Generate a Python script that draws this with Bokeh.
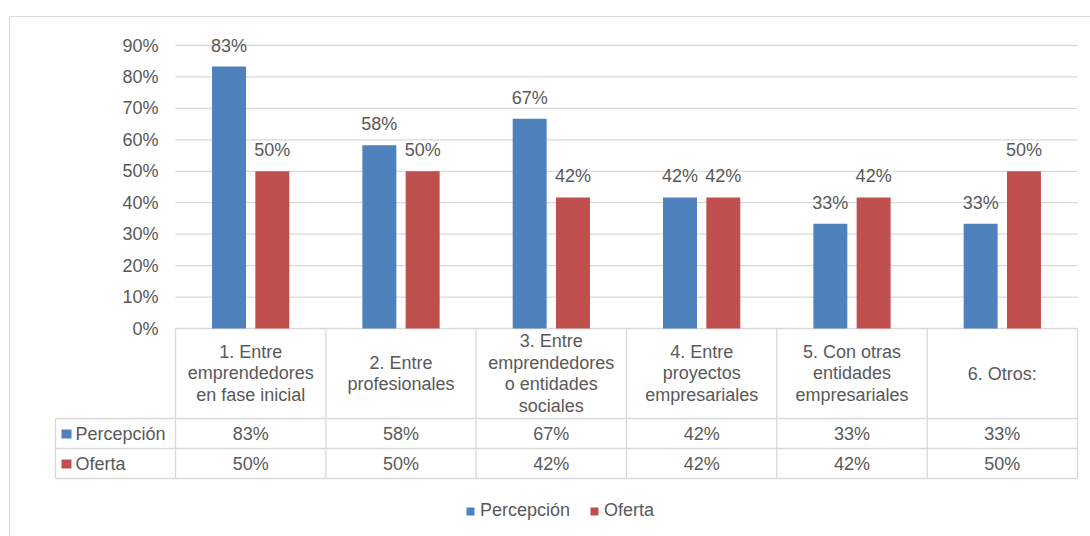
from bokeh.plotting import figure
from bokeh.models import Range1d, Legend, LegendItem
from bokeh.core.properties import value
from bokeh.embed import file_html
from bokeh.resources import INLINE

# ---------------- data ----------------
categories = [
    "1. Entre\nemprendedores\nen fase inicial",
    "2. Entre\nprofesionales",
    "3. Entre\nemprendedores\no entidades\nsociales",
    "4. Entre\nproyectos\nempresariales",
    "5. Con otras\nentidades\nempresariales",
    "6. Otros:",
]
series_names = ["Percepción", "Oferta"]
percepcion = [83.3, 58.3, 66.7, 41.7, 33.3, 33.3]
oferta = [50.0, 50.0, 41.7, 41.7, 41.7, 50.0]
y_ticks = [0, 10, 20, 30, 40, 50, 60, 70, 80, 90]
colors = ["#4F81BD", "#C0504D"]

# ---------------- layout (page pixels) ----------------
W, H = 1090, 536
ORIGIN = 0
PLOT_L = 175.0
CAT_W = 150.33
ZERO_Y = 328.0
PX_PCT = 3.1444
FONT = value("Liberation Sans")
FS = "18px"
TXT = "#595959"
LINE = "#D9D9D9"


def X(px):
    return (px - PLOT_L) / CAT_W


def Y(py):
    return (ZERO_Y - py) / PX_PCT


p = figure(
    width=W, height=H, output_backend="svg", toolbar_location=None,
    x_range=Range1d(X(ORIGIN), X(ORIGIN + W)),
    y_range=Range1d(Y(ORIGIN + H), Y(ORIGIN)),
    x_axis_location=None, y_axis_location=None,
    min_border=0,
)
p.grid.visible = False
p.outline_line_color = None
p.background_fill_color = "white"
p.border_fill_color = "white"

n = len(categories)

# outer chart border
p.segment(x0=[X(9), X(9)], y0=[Y(16), Y(16)], x1=[X(1200), X(9)], y1=[Y(16), Y(600)],
          line_color=LINE, line_width=1.2)

# gridlines
p.segment(x0=[0] * len(y_ticks), x1=[n] * len(y_ticks), y0=y_ticks, y1=y_ticks,
          line_color=LINE, line_width=1.3)

# y tick labels
p.text(x=[X(158)] * len(y_ticks), y=y_ticks, text=[f"{t}%" for t in y_ticks],
       text_font=FONT, text_font_size=FS, text_color=TXT,
       text_align="right", text_baseline="middle")

# bars
BW = 0.226
OFF = 0.144
xs = [i + 0.5 for i in range(n)]
r1 = p.vbar(x=[x - OFF for x in xs], top=percepcion, bottom=0, width=BW,
            fill_color=colors[0], line_color=None)
r2 = p.vbar(x=[x + OFF for x in xs], top=oferta, bottom=0, width=BW,
            fill_color=colors[1], line_color=None)

# data labels
for sign, vals in ((-1, percepcion), (1, oferta)):
    p.text(x=[x + sign * OFF for x in xs], y=vals, text=[f"{round(v)}%" for v in vals],
           text_font=FONT, text_font_size=FS, text_color=TXT,
           text_align="center", text_baseline="alphabetic", y_offset=-21)

# data table grid
TAB_L = 55
ROW1, ROW2, ROW3 = 418, 448, 478
bounds = [k for k in range(n + 1)]
p.segment(x0=bounds, x1=bounds, y0=[Y(ZERO_Y)] * len(bounds), y1=[Y(ROW3)] * len(bounds),
          line_color=LINE, line_width=1.3)
p.segment(x0=[X(TAB_L)], x1=[X(TAB_L)], y0=[Y(ROW1)], y1=[Y(ROW3)],
          line_color=LINE, line_width=1.3)
p.segment(x0=[X(TAB_L)] * 3, x1=[n] * 3, y0=[Y(ROW1), Y(ROW2), Y(ROW3)],
          y1=[Y(ROW1), Y(ROW2), Y(ROW3)], line_color=LINE, line_width=1.3)

# header text
p.text(x=xs, y=[Y((ZERO_Y + ROW1) / 2)] * n, text=categories,
       text_font=FONT, text_font_size=FS, text_color=TXT,
       text_align="center", text_baseline="middle", text_line_height=1.07)

# row labels with colour keys
row_y = [Y((ROW1 + ROW2) / 2 + 0.5), Y((ROW2 + ROW3) / 2 + 0.5)]
p.rect(x=[X(66)] * 2, y=row_y, width=10, height=9, width_units="screen",
       height_units="screen", fill_color=colors, line_color=None)
p.text(x=[X(75)] * 2, y=row_y, text=series_names,
       text_font=FONT, text_font_size=FS, text_color=TXT,
       text_align="left", text_baseline="middle")

# table values
for ry, vals in zip(row_y, (percepcion, oferta)):
    p.text(x=xs, y=[ry] * n, text=[f"{round(v)}%" for v in vals],
           text_font=FONT, text_font_size=FS, text_color=TXT,
           text_align="center", text_baseline="middle")

# legend
legend = Legend(
    items=[LegendItem(label=series_names[0], renderers=[r1]),
           LegendItem(label=series_names[1], renderers=[r2])],
    orientation="horizontal", location=(465, 15),
    glyph_width=10, glyph_height=10, label_standoff=5, spacing=19,
    padding=0, margin=0, border_line_color=None, background_fill_alpha=0,
    label_text_font="Liberation Sans", label_text_font_size=FS, label_text_color=TXT,
)
p.add_layout(legend, "center")

open("out.html", "w").write(file_html(p, INLINE))
